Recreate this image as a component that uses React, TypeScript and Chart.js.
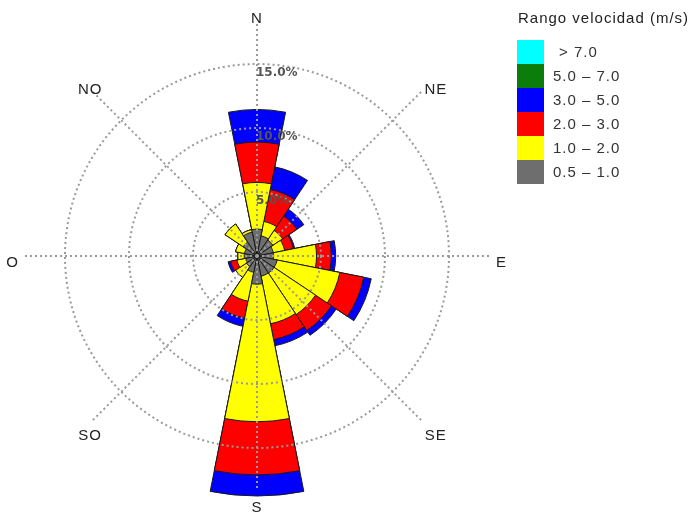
import { useEffect, useRef } from "react";
import { Chart, registerables } from "chart.js";

Chart.register(...registerables);

// 16 wind directions, clockwise from North
const directions = ["N", "NNE", "NE", "ENE", "E", "ESE", "SE", "SSE", "S", "SSO", "SO", "OSO", "O", "ONO", "NO", "NNO"];

// Speed bins (m/s), from lowest to highest
const speedBins = ["0.5 – 1.0", "1.0 – 2.0", "2.0 – 3.0", "3.0 – 5.0", "5.0 – 7.0", "> 7.0"];
const binColors = ["#6e6e6e", "#ffff00", "#ff0000", "#0000ff", "#0a7d0a", "#00ffff"];

// Frequency (%) per direction for each speed bin
const freq05_10 = [2.1, 1.6, 1.5, 1.3, 1.3, 1.6, 1.6, 1.6, 2.2, 1.3, 1.0, 0.9, 1.0, 1.0, 1.3, 1.9];
const freq10_20 = [3.65, 1.15, 0.9, 0.9, 3.35, 5.0, 3.9, 3.8, 10.75, 2.3, 1.0, 0.7, 0.5, 0.7, 1.7, 0.2];
const freq20_30 = [3.15, 2.55, 1.35, 0.7, 1.15, 1.9, 1.5, 1.25, 4.15, 1.35, 0, 0.5, 0, 0, 0, 0];
const freq30_50 = [2.55, 1.8, 0.65, 0.1, 0.35, 0.6, 0.45, 0.5, 1.65, 0.65, 0, 0.2, 0, 0, 0, 0];
const freq50_70 = [0, 0, 0, 0, 0, 0, 0, 0, 0, 0, 0, 0, 0, 0, 0, 0];
const freq70 = [0, 0, 0, 0, 0, 0, 0, 0, 0, 0, 0, 0, 0, 0, 0, 0];

const compassLabels = ["N", "NE", "E", "SE", "S", "SO", "O", "NO"];
const gridValues = [5, 10, 15];
const tickLabels = ["5.0%", "10.0%", "15.0%"];
const legendTitle = "Rango velocidad (m/s)";

const series = [freq05_10, freq10_20, freq20_30, freq30_50, freq50_70, freq70];

function buildDatasets() {
  const out: any[] = [];
  const running = directions.map(() => 0);
  series.forEach((s, k) => {
    const hasData = s.some((v) => v > 0);
    for (let i = 0; i < running.length; i++) running[i] += s[i];
    if (hasData) {
      out.push({
        label: speedBins[k],
        data: running.slice(),
        backgroundColor: binColors[k],
        borderColor: "#1a1a1a",
        borderWidth: 1,
      });
    }
  });
  return out;
}

const overlay = {
  id: "roseOverlay",
  afterDatasetsDraw(chart: any) {
    const r = chart.scales.r;
    const cx = r.xCenter;
    const cy = r.yCenter;
    const ctx = chart.ctx as CanvasRenderingContext2D;
    ctx.save();

    // dotted grid circles
    ctx.strokeStyle = "#9a9a9a";
    ctx.lineWidth = 2;
    ctx.setLineDash([2, 3]);
    gridValues.forEach((v) => {
      const d = r.getDistanceFromCenterForValue(v);
      ctx.beginPath();
      ctx.arc(cx, cy, d, 0, Math.PI * 2);
      ctx.stroke();
    });
    // dotted radial lines
    const lineEnd = r.getDistanceFromCenterForValue(18.2);
    compassLabels.forEach((_, i) => {
      const a = (i * Math.PI) / 4;
      ctx.beginPath();
      ctx.moveTo(cx, cy);
      ctx.lineTo(cx + lineEnd * Math.sin(a), cy - lineEnd * Math.cos(a));
      ctx.stroke();
    });
    ctx.setLineDash([]);

    // tick labels
    ctx.font = 'bold 12px "DejaVu Sans", sans-serif';
    ctx.fillStyle = "#555";
    ctx.textAlign = "left";
    ctx.textBaseline = "middle";
    gridValues.forEach((v, i) => {
      const d = r.getDistanceFromCenterForValue(v);
      ctx.fillText(tickLabels[i], cx - 1, cy - d + 9);
    });

    // compass labels
    (ctx as any).letterSpacing = "1px";
    ctx.font = '15px "Liberation Sans", Arial, sans-serif';
    ctx.fillStyle = "#222";
    ctx.textAlign = "center";
    const lr = r.getDistanceFromCenterForValue(19.1);
    compassLabels.forEach((t, i) => {
      const a = (i * Math.PI) / 4;
      const sx = 6 * Math.abs(Math.sin(2 * a));
      ctx.fillText(t, cx + lr * Math.sin(a) + sx, cy - lr * Math.cos(a) + 7);
    });

    // legend
    const lx = chart.chartArea.right + 3;
    ctx.textAlign = "left";
    ctx.fillStyle = "#222";
    ctx.fillText(legendTitle, lx + 1, 19);
    const boxW = 27;
    const boxH = 24;
    const top = 40;
    for (let j = 0; j < speedBins.length; j++) {
      const k = speedBins.length - 1 - j;
      const y = top + j * boxH;
      ctx.fillStyle = binColors[k];
      ctx.fillRect(lx, y, boxW, boxH);
      ctx.fillStyle = "#333";
      ctx.fillText(speedBins[k], lx + boxW + 9 + (k === speedBins.length - 1 ? 6 : 0), y + boxH / 2 + 1);
    }
    ctx.restore();
  },
};

export default function App() {
  const ref = useRef<HTMLCanvasElement>(null);
  useEffect(() => {
    if (!ref.current) return;
    const chart = new Chart(ref.current, {
      type: "polarArea",
      data: { labels: directions, datasets: buildDatasets() },
      options: {
        responsive: false,
        animation: false,
        devicePixelRatio: 1,
        layout: { padding: { left: 0, top: 0, right: 179, bottom: 7 } },
        plugins: { legend: { display: false }, tooltip: { enabled: false } },
        scales: {
          r: {
            min: 0,
            max: 20,
            startAngle: -11.25,
            ticks: { display: false },
            grid: { display: false },
            angleLines: { display: false },
            pointLabels: { display: false },
          },
        },
      } as any,
      plugins: [overlay],
    });
    return () => chart.destroy();
  }, []);
  return (
    <div style={{ position: "fixed", left: 0, top: 0, width: 693, height: 519, background: "#fff" }}>
      <canvas ref={ref} width={693} height={519} style={{ display: "block", width: 693, height: 519 }} />
    </div>
  );
}
